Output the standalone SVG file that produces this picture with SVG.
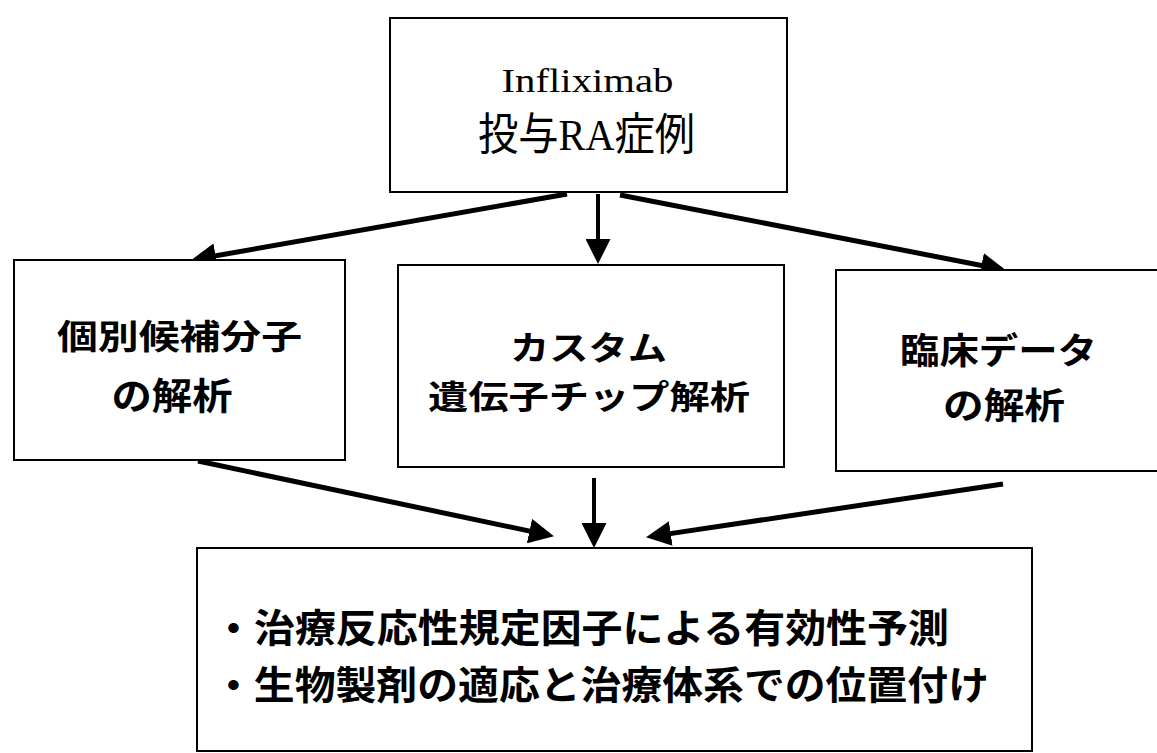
<svg xmlns="http://www.w3.org/2000/svg" width="1157" height="753" viewBox="0 0 1157 753">
<style>
.box{fill:#fff;stroke:#000;stroke-width:2}
.jp{font-family:"Noto Sans CJK JP","Liberation Sans",sans-serif;fill:#000;font-weight:bold}
.mix{font-family:"Liberation Serif","Noto Sans CJK JP",serif;fill:#000}
.c{text-anchor:middle}
.arr{stroke:#000;stroke-width:5;fill:none;marker-end:url(#ah)}
.arrv{stroke:#000;stroke-width:4;fill:none;marker-end:url(#ah)}
</style>
<defs>
<marker id="ah" markerUnits="userSpaceOnUse" markerWidth="25" markerHeight="25" refX="4" refY="12.5" orient="auto" viewBox="0 0 25 25">
<path d="M0,0 L25,12.5 L0,25 z" fill="#000"/>
</marker>
</defs>
<rect width="1157" height="753" fill="#fff"/>
<g id="connectors">
<line class="arr" x1="567" y1="194" x2="211.7" y2="256.5"/>
<line class="arrv" x1="598" y1="194" x2="598" y2="243"/>
<line class="arr" x1="620" y1="195" x2="985.4" y2="266.2"/>
<line class="arr" x1="198" y1="461" x2="533.4" y2="531.9"/>
<line class="arrv" x1="594" y1="478" x2="594" y2="527"/>
<line class="arr" x1="1003" y1="484" x2="666.8" y2="534.1"/>
</g>
<g id="node-top">
<rect class="box" x="390" y="18" width="397" height="174"/>
<text class="mix c" x="587.5" y="92" font-size="34" textLength="172" lengthAdjust="spacingAndGlyphs">Infliximab</text>
<text class="mix c" x="586.5" y="150" font-size="44" textLength="217" lengthAdjust="spacingAndGlyphs">投与RA症例</text>
</g>
<g id="node-left">
<rect class="box" x="14" y="260" width="331" height="200"/>
<text class="jp c" x="179.5" y="349" font-size="34" textLength="245" lengthAdjust="spacingAndGlyphs">個別候補分子</text>
<text class="jp c" x="172" y="410" font-size="37" textLength="121" lengthAdjust="spacingAndGlyphs">の解析</text>
</g>
<g id="node-middle">
<rect class="box" x="398" y="265" width="386" height="202"/>
<text class="jp c" x="588.5" y="360" font-size="33" textLength="157" lengthAdjust="spacingAndGlyphs">カスタム</text>
<text class="jp c" x="589" y="409" font-size="33" textLength="322" lengthAdjust="spacingAndGlyphs">遺伝子チップ解析</text>
</g>
<g id="node-right">
<rect class="box" x="836" y="270" width="340" height="201"/>
<text class="jp c" x="998.5" y="364" font-size="36" textLength="197" lengthAdjust="spacingAndGlyphs">臨床データ</text>
<text class="jp c" x="1004" y="419" font-size="36" textLength="122" lengthAdjust="spacingAndGlyphs">の解析</text>
</g>
<g id="node-bottom">
<rect class="box" x="197" y="548" width="835" height="203"/>
<text class="jp" x="213" y="642" font-size="39" textLength="736" lengthAdjust="spacingAndGlyphs">・治療反応性規定因子による有効性予測</text>
<text class="jp" x="213" y="699" font-size="39" textLength="776" lengthAdjust="spacingAndGlyphs">・生物製剤の適応と治療体系での位置付け</text>
</g>
</svg>
